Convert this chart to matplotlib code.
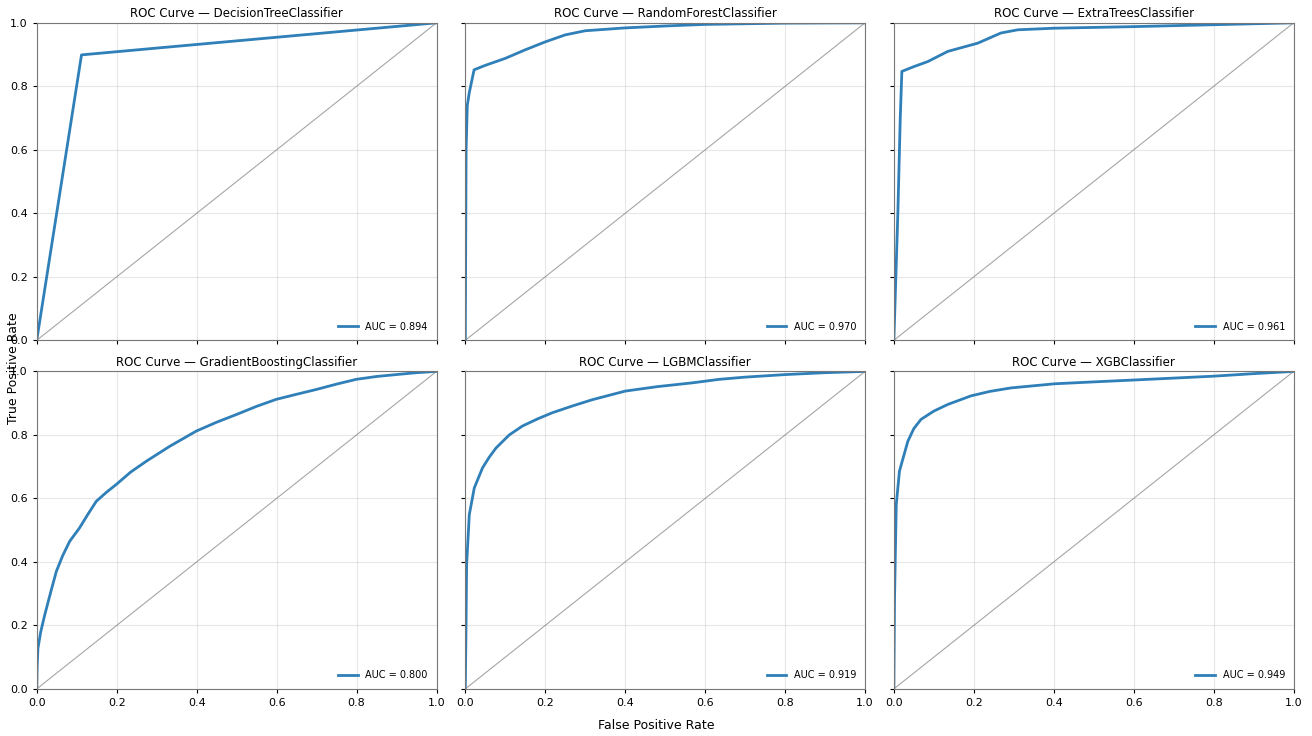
import numpy as np
import matplotlib
matplotlib.use('Agg')
import matplotlib.pyplot as plt

# model names and AUC values shown in the legends
models = ['DecisionTreeClassifier', 'RandomForestClassifier', 'ExtraTreesClassifier',
          'GradientBoostingClassifier', 'LGBMClassifier', 'XGBClassifier']
aucs = [0.894, 0.970, 0.961, 0.800, 0.919, 0.949]

# ROC points (fpr, tpr)
dt_fpr = [0.0, 0.112, 1.0]
dt_tpr = [0.0, 0.899, 1.0]

rf_fpr = [0.0, 0.002, 0.005, 0.01, 0.022, 0.05, 0.1, 0.15, 0.2, 0.25, 0.3, 0.4, 0.5, 0.6, 0.8, 1.0]
rf_tpr = [0.0, 0.60, 0.74, 0.78, 0.852, 0.866, 0.888, 0.915, 0.94, 0.962, 0.975, 0.984, 0.99, 0.995, 0.999, 1.0]

et_fpr = [0.0, 0.005, 0.01, 0.016, 0.02, 0.05, 0.085, 0.135, 0.21, 0.268, 0.31, 0.4, 0.6, 0.8, 1.0]
et_tpr = [0.0, 0.2, 0.4, 0.7, 0.847, 0.862, 0.878, 0.91, 0.936, 0.968, 0.978, 0.983, 0.988, 0.994, 1.0]

gb_fpr = [0.0, 0.001, 0.003, 0.01, 0.02, 0.035, 0.049, 0.065, 0.0825, 0.107, 0.128, 0.149, 0.175,
          0.199, 0.235, 0.274, 0.3325, 0.399, 0.45, 0.499, 0.55, 0.599, 0.65, 0.699, 0.75, 0.799,
          0.85, 0.899, 0.95, 1.0]
gb_tpr = [0.0, 0.07, 0.128, 0.18, 0.233, 0.305, 0.37, 0.42, 0.465, 0.507, 0.55, 0.591, 0.62,
          0.644, 0.683, 0.717, 0.764, 0.812, 0.84, 0.864, 0.89, 0.912, 0.928, 0.943, 0.96, 0.975,
          0.984, 0.99, 0.996, 1.0]

lgbm_fpr = [0.0, 0.0017, 0.0033, 0.01, 0.0225, 0.043, 0.06, 0.077, 0.11, 0.143, 0.18, 0.218,
            0.27, 0.318, 0.4, 0.48, 0.568, 0.635, 0.7, 0.8, 0.9, 1.0]
lgbm_tpr = [0.0, 0.181, 0.391, 0.549, 0.633, 0.696, 0.73, 0.759, 0.80, 0.828, 0.85, 0.87,
            0.892, 0.911, 0.938, 0.952, 0.964, 0.975, 0.982, 0.99, 0.996, 1.0]

xgb_fpr = [0.0, 0.0017, 0.006, 0.014, 0.035, 0.05, 0.068, 0.1, 0.135, 0.193, 0.24, 0.293, 0.402,
           0.5, 0.635, 0.8, 0.9, 1.0]
xgb_tpr = [0.0, 0.286, 0.58, 0.686, 0.78, 0.82, 0.849, 0.875, 0.896, 0.923, 0.937, 0.948, 0.961,
           0.967, 0.975, 0.985, 0.993, 1.0]

curves = [(dt_fpr, dt_tpr), (rf_fpr, rf_tpr), (et_fpr, et_tpr),
          (gb_fpr, gb_tpr), (lgbm_fpr, lgbm_tpr), (xgb_fpr, xgb_tpr)]

fig, axes = plt.subplots(2, 3, figsize=(13.12, 7.36), dpi=100, sharex=True, sharey=True)
fig.subplots_adjust(left=0.028, right=0.986, top=0.969, bottom=0.064, wspace=0.072, hspace=0.098)

for ax, name, auc, (fpr, tpr) in zip(axes.flat, models, aucs, curves):
    ax.plot(fpr, tpr, color='#2f7fb8', lw=2, label=f'AUC = {auc:.3f}')
    ax.plot([0, 1], [0, 1], color='gray', lw=0.8, alpha=0.7)
    ax.set_xlim(0, 1)
    ax.set_ylim(0, 1)
    ax.set_title(f'ROC Curve — {name}', fontsize=8.5, pad=4)
    ax.grid(True, alpha=0.3)
    ax.tick_params(labelsize=8, length=3)
    ax.legend(loc='lower right', frameon=False, fontsize=7)
    for sp in ax.spines.values():
        sp.set_color('#777777')

fig.supxlabel('False Positive Rate', fontsize=9, y=0.005)
fig.supylabel('True Positive Rate', fontsize=9, x=0.005)

plt.savefig('out.png', dpi=100)
